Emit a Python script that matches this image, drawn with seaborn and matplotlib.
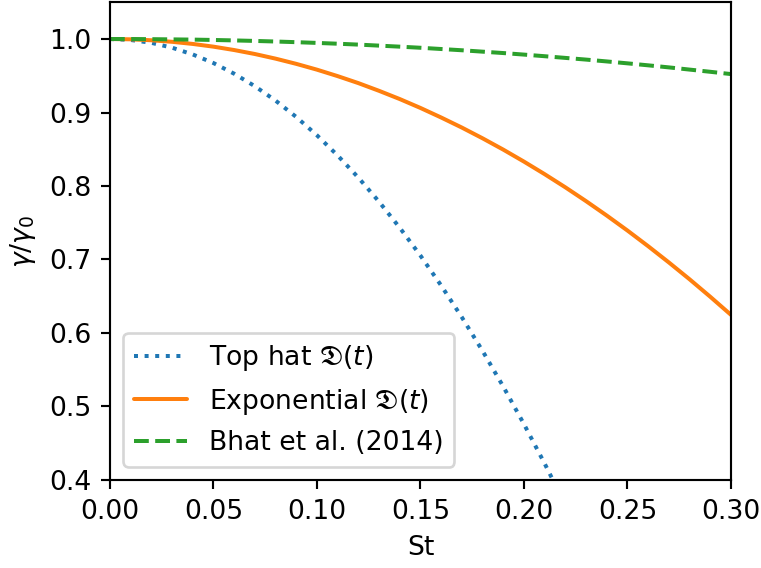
import numpy as np
import pandas as pd
import matplotlib
matplotlib.use("Agg")
import matplotlib.pyplot as plt
import seaborn as sns

# Valores (St vs gamma/gamma0)
st = [0.00, 0.01, 0.02, 0.03, 0.04, 0.05, 0.06, 0.07, 0.08, 0.09, 0.10,
      0.11, 0.12, 0.13, 0.14, 0.15, 0.16, 0.17, 0.18, 0.19, 0.20,
      0.21, 0.22, 0.23, 0.24, 0.25, 0.26, 0.27, 0.28, 0.29, 0.30]
top_hat = [1.0000, 0.9987, 0.9948, 0.9882, 0.9790, 0.9673, 0.9528, 0.9358,
           0.9162, 0.8939, 0.8690, 0.8415, 0.8114, 0.7786, 0.7432, 0.7053,
           0.6646, 0.6214, 0.5756, 0.5271, 0.4760, 0.4223, 0.3660]
exponencial = [1.0000, 0.9996, 0.9983, 0.9962, 0.9933, 0.9896, 0.9850, 0.9796,
               0.9733, 0.9662, 0.9583, 0.9495, 0.9400, 0.9295, 0.9183, 0.9062,
               0.8932, 0.8795, 0.8649, 0.8495, 0.8332, 0.8161, 0.7982, 0.7794,
               0.7598, 0.7394, 0.7181, 0.6960, 0.6731, 0.6493, 0.6247]
bhat = [1.0000, 1.0000, 0.9998, 0.9995, 0.9992, 0.9987, 0.9981, 0.9974, 0.9966,
        0.9957, 0.9947, 0.9936, 0.9924, 0.9910, 0.9896, 0.9881, 0.9864, 0.9847,
        0.9828, 0.9809, 0.9788, 0.9766, 0.9743, 0.9720, 0.9695, 0.9669, 0.9642,
        0.9614, 0.9584, 0.9554, 0.9523]

etiquetas = [r"Top hat $\mathfrak{D}(t)$",
             r"Exponential $\mathfrak{D}(t)$",
             "Bhat et al. (2014)"]

sns.set_style("ticks")
plt.rcParams.update({
    "axes.edgecolor": "black",
    "xtick.color": "black",
    "ytick.color": "black",
    "axes.labelcolor": "black",
    "text.color": "black",
    "font.size": 10,
})
plt.rcParams["font.family"] = ["DejaVu Sans"]

colores = sns.color_palette("tab10")
DPI = 192

fig = plt.figure(figsize=(761 / DPI, 568 / DPI), dpi=DPI)
ax = fig.add_axes([0.1445, 0.155, 0.816, 0.841])

df1 = pd.DataFrame({"St": st[:len(top_hat)], "g": top_hat})
df2 = pd.DataFrame({"St": st, "g": exponencial})
df3 = pd.DataFrame({"St": st, "g": bhat})

sns.lineplot(data=df1, x="St", y="g", ax=ax, color=colores[0], linestyle=":",
             linewidth=1.5, label=etiquetas[0])
sns.lineplot(data=df2, x="St", y="g", ax=ax, color=colores[1], linestyle="-",
             linewidth=1.5, label=etiquetas[1])
sns.lineplot(data=df3, x="St", y="g", ax=ax, color=colores[2], linestyle="--",
             linewidth=1.5, label=etiquetas[2])

ax.set_xlim(0, 0.30)
ax.set_ylim(0.4, 1.05)
ax.set_xticks([0.00, 0.05, 0.10, 0.15, 0.20, 0.25, 0.30])
ax.set_xticklabels(["0.00", "0.05", "0.10", "0.15", "0.20", "0.25", "0.30"])
ax.set_yticks([0.4, 0.5, 0.6, 0.7, 0.8, 0.9, 1.0])
ax.set_xlabel("St")
ax.set_ylabel(r"$\gamma/\gamma_0$")
ax.legend(loc="lower left")
for s in ax.spines.values():
    s.set_visible(True)
    s.set_linewidth(0.8)

plt.savefig("out.png", dpi=DPI)
